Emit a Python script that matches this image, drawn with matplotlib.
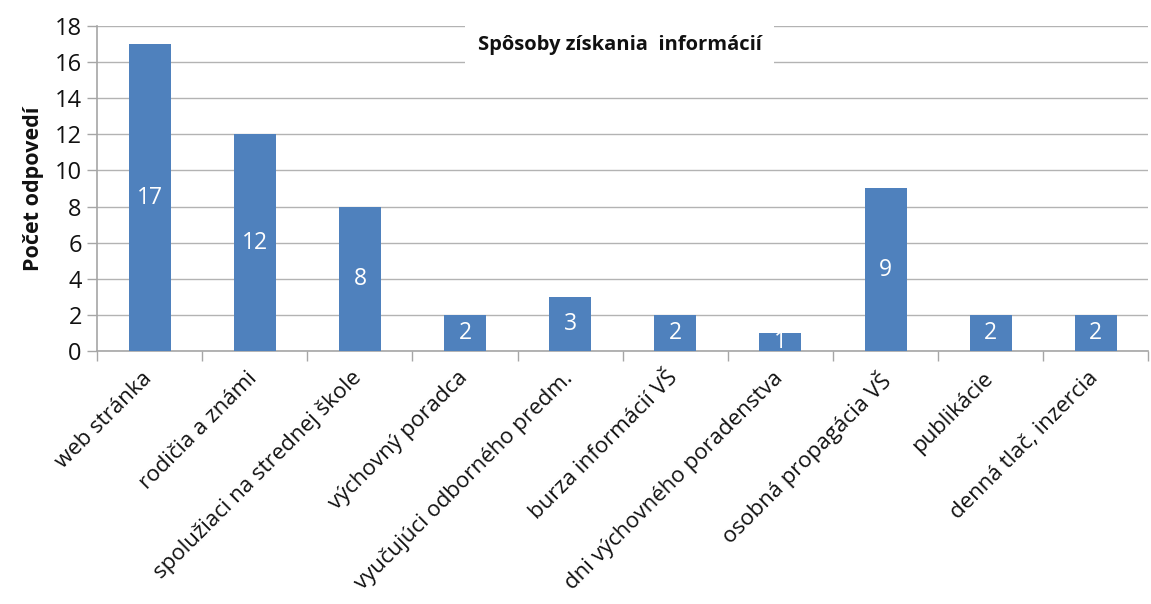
import numpy as np
import matplotlib
matplotlib.use("Agg")
import matplotlib.pyplot as plt
from matplotlib.transforms import ScaledTranslation

# data
categories = [
    "web stránka",
    "rodičia a známi",
    "spolužiaci na strednej škole",
    "výchovný poradca",
    "vyučujúci odborného predm.",
    "burza informácií VŠ",
    "dni výchovného poradenstva",
    "osobná propagácia VŠ",
    "publikácie",
    "denná tlač, inzercia",
]
counts = [17, 12, 8, 2, 3, 2, 1, 9, 2, 2]
y_ticks = [0, 2, 4, 6, 8, 10, 12, 14, 16, 18]

BAR = "#4f81bd"
GRID = "#b3b3b3"
AXIS = "#a6a6a6"
INK = "#111111"

plt.rcParams.update({"font.family": ["Open Sans", "DejaVu Sans"]})

fig = plt.figure(figsize=(11.51, 6.04), dpi=100)
ax = fig.add_axes([0.0843, 0.4189, 0.9135, 0.5381])

x = np.arange(len(categories))
ax.bar(x, counts, width=0.4, color=BAR, zorder=3)
for xi, v in zip(x, counts):
    ax.text(xi, v / 2, str(v), ha="center", va="center",
            color="white", fontsize=16.5, zorder=4)

ax.set_xlim(-0.5, len(categories) - 0.5)
ax.set_ylim(0, 18)
ax.set_yticks(y_ticks)
ax.tick_params(axis="y", labelsize=17, colors=AXIS, labelcolor=INK,
               length=7, width=1, pad=4)
ax.yaxis.grid(True, color=GRID, lw=1, zorder=0)

# category boundaries carry the x ticks, labels sit on the centres
ax.set_xticks(np.arange(len(categories) + 1) - 0.5)
ax.set_xticklabels([])
ax.tick_params(axis="x", colors=AXIS, length=7, width=1)
ax.set_xticks(x, minor=True)
ax.set_xticklabels(categories, minor=True, rotation=45, ha="right",
                   va="top", rotation_mode="anchor", fontsize=16, color=INK)
ax.tick_params(axis="x", which="minor", length=0, pad=12)
shift = ScaledTranslation(-6 / 72, 0, fig.dpi_scale_trans)
for lbl in ax.get_xticklabels(minor=True):
    lbl.set_transform(lbl.get_transform() + shift)

for side, sp in ax.spines.items():
    sp.set_visible(side in ("left", "bottom"))
    sp.set_color(AXIS)
    sp.set_linewidth(1.2)

ax.set_ylabel("Počet odpovedí", fontsize=15.5, fontweight="bold",
              color=INK, labelpad=8)

ax.text(0.497, 0.942, "Spôsoby získania  informácií", transform=ax.transAxes,
        ha="center", va="center", fontsize=14.5, fontweight="bold",
        color=INK, zorder=5,
        bbox=dict(facecolor="white", edgecolor="none", pad=9))

fig.savefig("out.png", dpi=100, facecolor="white")
